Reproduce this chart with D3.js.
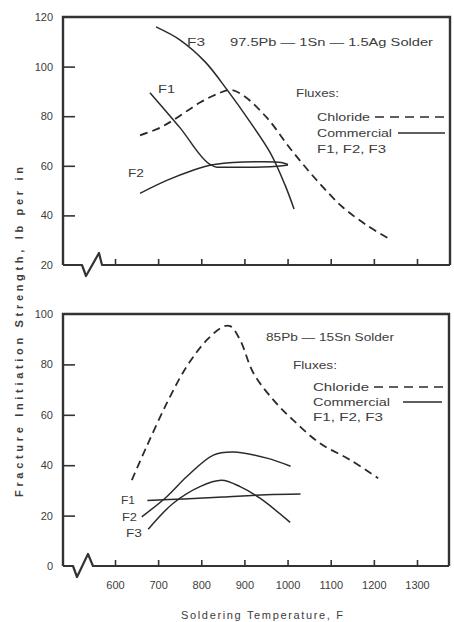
<!DOCTYPE html>
<html><head><meta charset="utf-8">
<script src="https://cdn.jsdelivr.net/npm/d3@7"></script>
<style>
body{margin:0;background:#fff}
svg{display:block}
text{font-family:"Liberation Sans",Arial,sans-serif;fill:#3c3c3c}
</style>
</head><body><svg id="c" width="454" height="622"></svg>
<script>
// ---- data ----
const xTicks=[600,700,800,900,1000,1100,1200,1300];
const topYTicks=[120,100,80,60,40,20];
const botYTicks=[100,80,60,40,20,0];

// Top panel: 97.5Pb - 1Sn - 1.5Ag Solder
const topChloride=[[658,72.3],[700,75],[734,78.3],[797,85.5],[840,89.2],[867,90.6],[897,88.4],[952,79.4],[1006,67],[1068,54.1],[1128,43.3],[1184,36],[1233,30.8]];
const topF1=[[681,89.5],[750,75.5],[820,60.6],[836,59.4],[900,59.4],[960,59.6],[1001,60.3]];
const topF2=[[658,48.9],[720,54.1],[781,58.2],[820,60.2],[874,61.3],[940,61.6],[985,61.3],[1001,60.5]];
const topF3=[[695,116],[751,110.7],[809,101.9],[860,90.6],[913,77.7],[960,65.2],[994,52.3],[1015,42.6]];

// Bottom panel: 85Pb - 15Sn Solder
const botChloride=[[639,34.1],[673,47.3],[720,64.6],[766,79.1],[813,89.7],[851,95],[867,95.2],[890,89.7],[921,76.5],[967,65.9],[1013,57.9],[1075,48.7],[1145,42.1],[1210,34.8]];
const botF1=[[675,26],[760,26.6],[850,27.4],[950,28.3],[1030,28.6]];
const botF2=[[662,19.5],[720,27.5],[766,35.4],[828,44],[874,45.2],[952,42.8],[1007,39.6]];
const botF3=[[677,14.6],[735,24.9],[797,31.5],[847,34],[890,31.5],[936,26.9],[1006,17.3]];

const svg=d3.select("#c");
const ink="#2a2a2a";

function panel(o){
  const x=d3.scaleLinear().domain([600,1300]).range([115,417]);
  const y=d3.scaleLinear().domain(o.yDomain).range([o.bottom,o.top]);
  const g=svg.append("g");
  // frame (top, right, left)
  g.append("path")
    .attr("d",`M${o.left},${o.bottom}V${o.top}H${o.right}V${o.bottom}`)
    .attr("fill","none").attr("stroke","#333").attr("stroke-width",2.4);
  // bottom axis line with break
  const b=o.brk;
  g.append("path")
    .attr("d",`M${o.left},${o.bottom}H${b[0]}L${b[1]},${o.bottom+11}L${b[2]},${o.bottom-12}L${b[3]},${o.bottom}H${o.right}`)
    .attr("fill","none").attr("stroke","#333").attr("stroke-width",2.2).attr("stroke-linejoin","round");
  // x axis ticks
  const xa=g.append("g").attr("transform",`translate(0,${o.bottom})`)
    .call(d3.axisBottom(x).tickValues(xTicks).tickSize(-6).tickPadding(15)
      .tickFormat(o.xLabels?d3.format("d"):""));
  xa.select(".domain").remove();
  xa.selectAll("line").attr("stroke","#333").attr("stroke-width",1.6);
  xa.selectAll("text").attr("font-size",11).attr("fill","#3c3c3c").style("font-family","Liberation Sans, Arial, sans-serif");
  // y axis
  const ya=g.append("g").attr("transform",`translate(${o.left},0)`)
    .call(d3.axisLeft(y).tickValues(o.yTicks).tickSize(-12).tickPadding(10).tickFormat(d3.format("d")));
  ya.select(".domain").remove();
  ya.selectAll("line").attr("stroke","#333").attr("stroke-width",1.6)
    .attr("display",d=>(d===o.yDomain[0]||d===o.yDomain[1])?"none":null);
  ya.selectAll("text").attr("font-size",11).attr("fill","#3c3c3c").style("font-family","Liberation Sans, Arial, sans-serif");

  const line=d3.line().x(d=>x(d[0])).y(d=>y(d[1])).curve(d3.curveCatmullRom.alpha(0.5));
  const lineLin=d3.line().x(d=>x(d[0])).y(d=>y(d[1])).curve(d3.curveMonotoneX);
  o.series.forEach(s=>{
    g.append("path").datum(s.data)
      .attr("d",(s.linear?lineLin:line))
      .attr("fill","none").attr("stroke",ink)
      .attr("stroke-width",s.dash?1.8:1.5)
      .attr("stroke-dasharray",s.dash?"8,5":null);
  });
  // texts
  o.texts.forEach(t=>{
    const tx=g.append("text").attr("x",t.x).attr("y",t.y).attr("font-size",t.fs||11).text(t.s);
    if(t.w) tx.attr("textLength",t.w).attr("lengthAdjust","spacingAndGlyphs");
  });
  // legend lines
  g.append("line").attr("x1",o.legDash[0]).attr("x2",o.legDash[1]).attr("y1",o.legDash[2]).attr("y2",o.legDash[2])
    .attr("stroke",ink).attr("stroke-width",1.6).attr("stroke-dasharray","9,6");
  g.append("line").attr("x1",o.legSolid[0]).attr("x2",o.legSolid[1]).attr("y1",o.legSolid[2]).attr("y2",o.legSolid[2])
    .attr("stroke",ink).attr("stroke-width",1.6);
}

panel({
  left:63,right:450,top:17,bottom:265,yDomain:[20,120],yTicks:topYTicks,xLabels:false,
  brk:[82,86,99,102],
  series:[{data:topChloride,dash:true},{data:topF1,linear:true},{data:topF2},{data:topF3}],
  texts:[
    {x:230,y:46,s:"97.5Pb — 1Sn — 1.5Ag Solder",w:203},
    {x:296,y:97,s:"Fluxes:",w:43},
    {x:317,y:121,s:"Chloride",w:53},
    {x:317,y:137,s:"Commercial",w:75},
    {x:317,y:153,s:"F1, F2, F3",w:69},
    {x:187,y:46,s:"F3",w:18},
    {x:158,y:93,s:"F1",w:17},
    {x:128,y:177,s:"F2",w:16}
  ],
  legDash:[375,447,117],legSolid:[398,445,133]
});

panel({
  left:63,right:449,top:314,bottom:566,yDomain:[0,100],yTicks:botYTicks,xLabels:true,
  brk:[73,77,88,93],
  series:[{data:botChloride,dash:true},{data:botF1},{data:botF2},{data:botF3}],
  texts:[
    {x:266,y:341,s:"85Pb — 15Sn Solder",w:128},
    {x:293,y:369,s:"Fluxes:",w:44},
    {x:313,y:391,s:"Chloride",w:56},
    {x:313,y:406,s:"Commercial",w:77},
    {x:313,y:421,s:"F1, F2, F3",w:70},
    {x:121,y:504,s:"F1",w:14},
    {x:122,y:521,s:"F2",w:15},
    {x:126,y:537,s:"F3",w:16}
  ],
  legDash:[374,444,387],legSolid:[403,442,402]
});

// axis titles
svg.append("text").attr("transform","translate(23,332) rotate(-90)")
  .attr("text-anchor","middle").attr("font-size",11).attr("font-weight","bold").attr("fill","#444")
  .attr("textLength",330).attr("lengthAdjust","spacing")
  .text("Fracture Initiation Strength, lb per in");
svg.append("text").attr("x",262).attr("y",619).attr("text-anchor","middle").attr("font-size",11)
  .attr("textLength",162).attr("lengthAdjust","spacing")
  .text("Soldering Temperature, F");
</script>
</body></html>
